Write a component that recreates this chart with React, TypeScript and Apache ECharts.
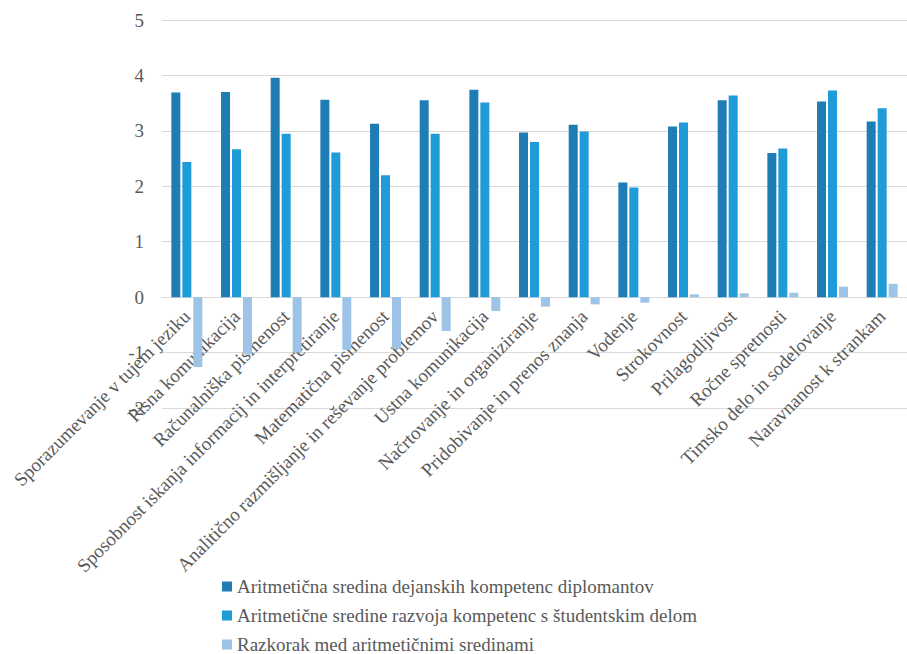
import React, { useEffect, useRef } from "react";
import * as echarts from "echarts";

const categories = [
  "Sporazumevanje v tujem jeziku",
  "Pisna komunikacija",
  "Računalniška pismenost",
  "Sposobnost iskanja informacij in interpretiranje",
  "Matematična pismenost",
  "Analitično razmišljanje in reševanje problemov",
  "Ustna komunikacija",
  "Načrtovanje in organiziranje",
  "Pridobivanje in prenos znanja",
  "Vodenje",
  "Strokovnost",
  "Prilagodljivost",
  "Ročne spretnosti",
  "Timsko delo in sodelovanje",
  "Naravnanost k strankam",
];

const seriesNames = [
  "Aritmetična sredina dejanskih kompetenc diplomantov",
  "Aritmetične sredine razvoja kompetenc s študentskim delom",
  "Razkorak med aritmetičnimi sredinami",
];

const graduates = [3.69, 3.7, 3.96, 3.56, 3.13, 3.55, 3.74, 2.97, 3.11, 2.07, 3.08, 3.55, 2.6, 3.53, 3.17];
const studentWork = [2.44, 2.67, 2.95, 2.61, 2.2, 2.95, 3.51, 2.8, 2.99, 1.98, 3.15, 3.64, 2.68, 3.73, 3.41];
const gap = [-1.26, -1.03, -1.0, -0.95, -0.93, -0.61, -0.25, -0.17, -0.13, -0.1, 0.05, 0.07, 0.08, 0.19, 0.24];

const yTicks = { min: -2, max: 5, step: 1 };

const colors = ["#1f7db5", "#1f9bd7", "#9dc3e6"];
const textColor = "#595959";
const gridColor = "#d9d9d9";
const fontFamily = "Liberation Serif";

const CHART_W = 907;
const CHART_H = 654;
const GRID_LEFT = 162;
const GRID_TOP = 20;
const GRID_BOTTOM = 246;

export default function App() {
  const ref = useRef<HTMLDivElement>(null);

  useEffect(() => {
    if (!ref.current) return;
    const chart = echarts.init(ref.current, undefined, { renderer: "svg" });
    const values = [graduates, studentWork, gap];

    // y pixel of the zero line; the category labels hang from it
    const plotH = CHART_H - GRID_TOP - GRID_BOTTOM;
    const zeroY = GRID_TOP + (plotH * yTicks.max) / (yTicks.max - yTicks.min);

    chart.setOption({
      animation: false,
      color: colors,
      textStyle: { fontFamily },
      grid: [
        {
          left: GRID_LEFT,
          right: 0,
          top: GRID_TOP,
          bottom: GRID_BOTTOM,
          containLabel: false,
          outerBoundsMode: "none",
        },
        {
          left: GRID_LEFT,
          right: 0,
          top: GRID_TOP,
          height: zeroY - GRID_TOP,
          containLabel: false,
          outerBoundsMode: "none",
        },
      ],
      legend: {
        orient: "vertical",
        left: 222,
        top: 577,
        height: 77,
        padding: 0,
        itemWidth: 10,
        itemHeight: 10,
        itemGap: 10,
        icon: "rect",
        textStyle: { color: textColor, fontSize: 19, fontFamily },
        data: seriesNames,
      },
      xAxis: [
        {
          type: "category",
          gridIndex: 0,
          data: categories,
          axisLine: { show: false },
          axisTick: { show: false },
          axisLabel: { show: false },
        },
        {
          type: "category",
          gridIndex: 1,
          data: categories,
          axisLine: { show: true, onZero: false, lineStyle: { color: gridColor, width: 1 } },
          axisTick: { show: false },
          axisLabel: {
            interval: 0,
            rotate: 45,
            margin: 16,
            color: textColor,
            fontSize: 19,
            fontFamily,
          },
        },
      ],
      yAxis: [
        {
          type: "value",
          gridIndex: 0,
          min: yTicks.min,
          max: yTicks.max,
          interval: yTicks.step,
          axisLine: { show: false },
          axisTick: { show: false },
          splitLine: { lineStyle: { color: gridColor, width: 1 } },
          axisLabel: { color: textColor, fontSize: 19, fontFamily, margin: 18 },
        },
        {
          type: "value",
          gridIndex: 1,
          min: 0,
          max: 1,
          show: false,
        },
      ],
      series: seriesNames.map((name, i) => ({
        name,
        type: "bar",
        xAxisIndex: 0,
        yAxisIndex: 0,
        data: values[i],
        barWidth: 9,
        barGap: "22%",
        itemStyle: { color: colors[i] },
      })),
    });
    return () => chart.dispose();
  }, []);

  return (
    <div
      ref={ref}
      style={{ position: "fixed", left: 0, top: 0, width: CHART_W, height: CHART_H, background: "#fff" }}
    />
  );
}
